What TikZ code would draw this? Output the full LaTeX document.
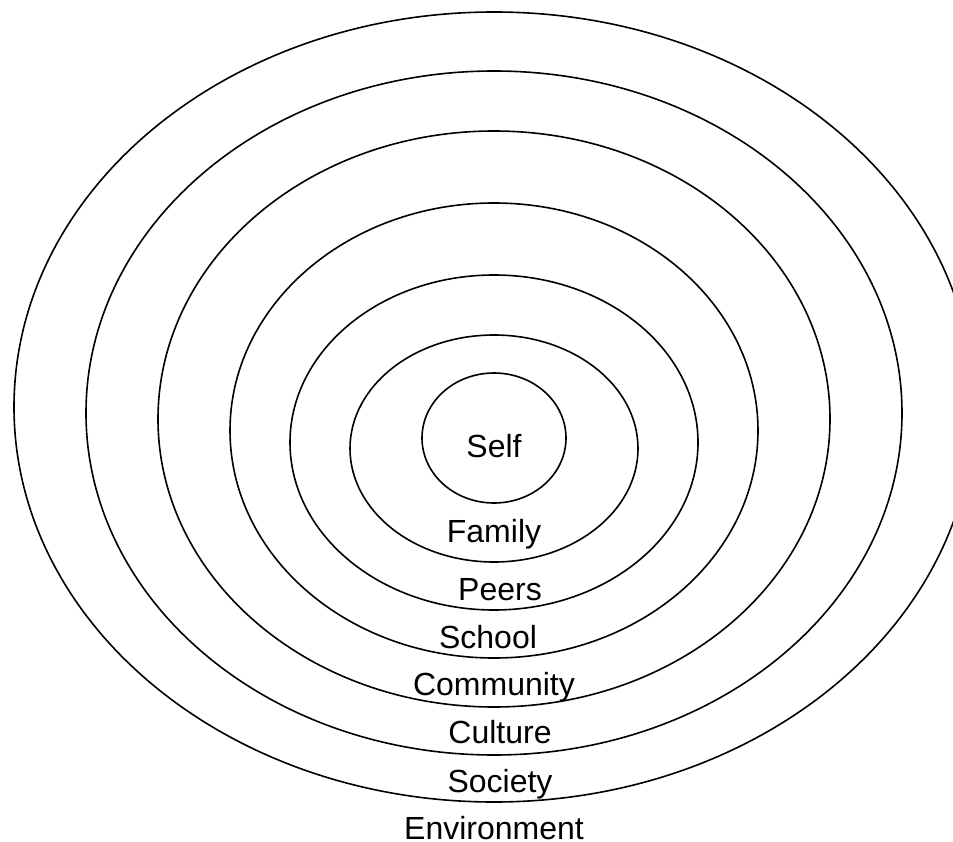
\documentclass[tikz,border=0pt]{standalone}
\usepackage{fontspec}
\setmainfont{Liberation Sans}
\begin{document}
\begin{tikzpicture}[x=1pt,y=-1pt,
  ring/.style={draw=black,line width=1.6pt},
  lbl/.style={anchor=base,inner sep=0pt,font=\fontsize{32}{32}\selectfont}]
\useasboundingbox (0,0) rectangle (953,842);
\fill[white] (0,0) rectangle (953,842);
% rings
\draw[ring] (494,407) ellipse [x radius=480pt, y radius=395pt];
\draw[ring] (494,413) ellipse [x radius=408pt, y radius=342pt];
\draw[ring] (494,419) ellipse [x radius=336pt, y radius=288pt];
\draw[ring] (494,430.5) ellipse [x radius=264pt, y radius=227.5pt];
\draw[ring] (494,442.5) ellipse [x radius=204pt, y radius=167.5pt];
\draw[ring] (494,448.5) ellipse [x radius=144pt, y radius=113.5pt];
\draw[ring] (494,438) ellipse [x radius=72pt, y radius=65pt];
% labels
\node[lbl] (self) at (494,457) {Self};
\node[lbl] (family) at (494,542) {Family};
\node[lbl] (peers) at (500,600) {Peers};
\node[lbl] (school) at (488,648) {School};
\node[lbl] (community) at (494,695) {Community};
\node[lbl] (culture) at (500,743) {Culture};
\node[lbl] (society) at (500,792) {Society};
\node[lbl] (environment) at (494,839) {Environment};
\end{tikzpicture}
\end{document}
